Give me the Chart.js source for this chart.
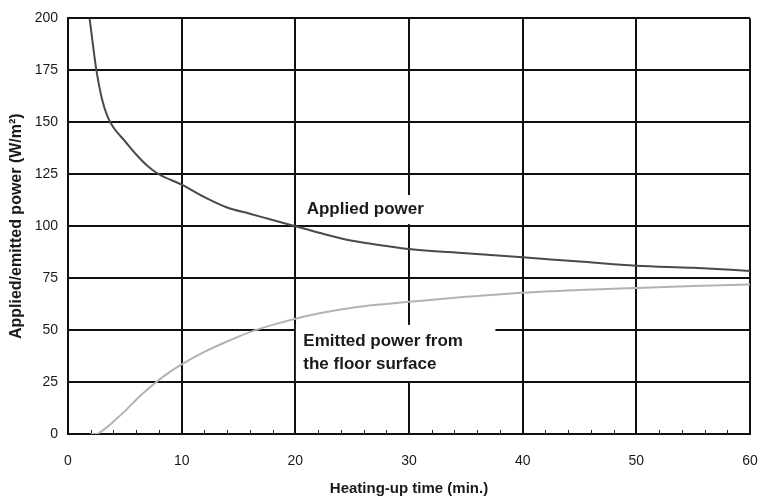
<!DOCTYPE html>
<html>
<head>
<meta charset="utf-8">
<script src="https://cdn.jsdelivr.net/npm/chart.js@4/dist/chart.umd.min.js"></script>
<style>
  html, body { margin: 0; padding: 0; background: #fff; }
  #wrap { width: 758px; height: 500px; }
</style>
</head>
<body>
<div id="wrap"><canvas id="chart"></canvas></div>
<script>
// Heating-up time (min.) and power (W/m2)
const appliedTime  = [1.9, 2.2, 2.5, 3, 3.5, 4, 5, 6, 7, 8, 10, 12, 14, 16, 18, 20, 22, 25, 28, 30, 35, 40, 45, 50, 55, 60];
const appliedPower = [200, 187, 175, 161, 152.5, 147.5, 141, 134.5, 129, 125, 120, 114, 109, 106, 103, 100, 97, 93, 90.5, 89, 87, 85, 83, 81, 80, 78.5];
const emittedTime  = [2, 2.5, 3, 4, 5, 6, 7, 8, 9, 10, 12, 14, 16, 18, 20, 22, 25, 28, 30, 35, 40, 45, 50, 55, 60];
const emittedPower = [0, 0, 1.5, 6, 11, 16.5, 21.5, 26, 30, 33.5, 39.5, 44.5, 49, 52.5, 55.5, 58, 60.8, 62.6, 63.6, 66, 68, 69.3, 70.3, 71.2, 72];
const xTicks = [0, 10, 20, 30, 40, 50, 60];
const yTicks = [0, 25, 50, 75, 100, 125, 150, 175, 200];
const minorX = [2, 4, 6, 8, 12, 14, 16, 18, 22, 24, 26, 28, 32, 34, 36, 38, 42, 44, 46, 48, 52, 54, 56, 58];

const toPoints = (xs, ys) => xs.map((x, i) => ({ x, y: ys[i] }));
const FONT = '"Liberation Sans", Arial, sans-serif';

// white label boxes that break the grid, with the curve names inside
const labelBoxes = {
    id: 'labelBoxes',
    beforeDatasetsDraw(chart) {
        const { ctx, scales: { x, y } } = chart;
        ctx.save();
        // minor ticks on the time axis
        ctx.strokeStyle = '#222';
        ctx.lineWidth = 1;
        minorX.forEach(v => {
            const px = Math.round(x.getPixelForValue(v)) + 0.5;
            ctx.beginPath();
            ctx.moveTo(px, y.bottom);
            ctx.lineTo(px, y.bottom - 4);
            ctx.stroke();
        });
        const boxes = [
            { x0: 20.2, x1: 31.8, y0: 101, y1: 115, lines: ['Applied power'], tx: 21.0, ty: 108 },
            { x0: 20.05, x1: 37.6, y0: 25.5, y1: 52.5, lines: ['Emitted power from', 'the floor surface'], tx: 20.7, ty: 44.8 }
        ];
        boxes.forEach(b => {
            const l = x.getPixelForValue(b.x0), r = x.getPixelForValue(b.x1);
            const t = y.getPixelForValue(b.y1), bt = y.getPixelForValue(b.y0);
            ctx.fillStyle = '#fff';
            ctx.fillRect(l, t, r - l, bt - t);
            ctx.fillStyle = '#1a1a1a';
            ctx.font = 'bold 17px ' + FONT;
            ctx.textBaseline = 'middle';
            ctx.textAlign = 'left';
            b.lines.forEach((s, i) => {
                ctx.fillText(s, x.getPixelForValue(b.tx), y.getPixelForValue(b.ty) + i * 23);
            });
        });
        ctx.restore();
    }
};

new Chart(document.getElementById('chart'), {
    type: 'line',
    data: {
        datasets: [
            {
                label: 'Applied power',
                data: toPoints(appliedTime, appliedPower),
                borderColor: '#4a4a4a',
                borderWidth: 2,
                pointRadius: 0,
                cubicInterpolationMode: 'monotone'
            },
            {
                label: 'Emitted power from the floor surface',
                data: toPoints(emittedTime, emittedPower),
                borderColor: '#b3b3b3',
                borderWidth: 2,
                pointRadius: 0,
                cubicInterpolationMode: 'monotone'
            }
        ]
    },
    options: {
        responsive: true,
        maintainAspectRatio: false,
        animation: false,
        layout: { padding: { top: 18, right: 8, left: 0, bottom: 0 } },
        plugins: { legend: { display: false }, tooltip: { enabled: false } },
        scales: {
            x: {
                type: 'linear',
                min: 0, max: 60,
                afterBuildTicks: s => { s.ticks = xTicks.map(v => ({ value: v })); },
                afterFit: s => { s.height = 66; s.paddingLeft = 0; s.paddingRight = 0; },
                grid: { color: '#111', lineWidth: 2, drawTicks: false },
                border: { color: '#111', width: 2 },
                ticks: { color: '#1a1a1a', padding: 19, maxRotation: 0, font: { family: FONT, size: 14 } },
                title: {
                    display: true,
                    text: 'Heating-up time (min.)',
                    color: '#1a1a1a',
                    padding: { top: 0, bottom: 2 },
                    font: { family: FONT, size: 15, weight: 'bold' }
                }
            },
            y: {
                min: 0, max: 200,
                afterBuildTicks: s => { s.ticks = yTicks.map(v => ({ value: v })); },
                afterFit: s => { s.width = 68; },
                grid: { color: '#111', lineWidth: 2, drawTicks: false },
                border: { color: '#111', width: 2 },
                ticks: { color: '#1a1a1a', padding: 10, font: { family: FONT, size: 14 } },
                title: {
                    display: true,
                    text: 'Applied/emitted power (W/m²)',
                    color: '#1a1a1a',
                    padding: { top: 7, bottom: 0 },
                    font: { family: FONT, size: 16, weight: 'bold' }
                }
            }
        }
    },
    plugins: [labelBoxes]
});
</script>
</body>
</html>
